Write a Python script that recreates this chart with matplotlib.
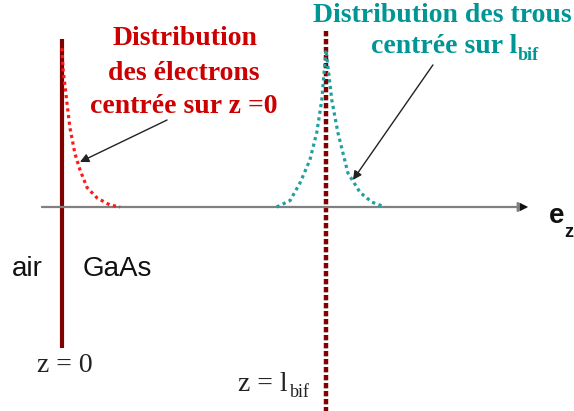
import numpy as np
import matplotlib.pyplot as plt

# positions along z in units of l_bif, amplitudes normalised to the peak
z_elec = [0.0, 0.004, 0.019, 0.030, 0.049, 0.068, 0.095, 0.133, 0.182, 0.22]
n_elec = [0.98, 0.85, 0.64, 0.49, 0.33, 0.23, 0.12, 0.056, 0.012, 0.0]

z_trou = [0.813, 0.864, 0.902, 0.939, 0.965, 0.984, 1.0, 1.022, 1.045, 1.083, 1.129, 1.174, 1.223]
n_trou = [0.0, 0.04, 0.15, 0.29, 0.46, 0.66, 0.97, 0.66, 0.46, 0.21, 0.09, 0.03, 0.0]

z_surface = 0.0
z_lbif = 1.0

W, H = 574, 411


def fx(px):
    return px / W


def fy(py):
    return 1 - py / H


fig = plt.figure(figsize=(5.74, 4.11), dpi=100)
ax = fig.add_axes([0, 0, 1, 1])
ax.set_xlim(-0.2348, 1.9394)
ax.set_ylim(-1.2593, 1.2778)
ax.axis('off')

# axe e_z
ax.annotate('', xy=(1.765, 0), xytext=(-0.076, 0),
            arrowprops=dict(arrowstyle='-|>', color='#808080', lw=1.6,
                            mutation_scale=14, shrinkA=0, shrinkB=0))
ax.annotate('', xy=(1.765, 0), xytext=(1.73, 0),
            arrowprops=dict(arrowstyle='-|>', color='#111111', lw=0.1,
                            mutation_scale=14, shrinkA=0, shrinkB=0))

# surface z = 0 and plane z = l_bif
ax.plot([z_surface, z_surface], [1.037, -0.87], color='#7f0000', lw=3, solid_capstyle='butt')
ax.plot([z_lbif, z_lbif], [1.086, -1.3], color='#800000', lw=3.2,
        dashes=(1.2, 0.6), zorder=2)

# distributions
ax.plot(z_elec, n_elec, color='#ff1a1a', lw=2.3, dashes=(1, 1.1), zorder=3)
ax.plot(z_trou, n_trou, color='#1f9f9f', lw=2.3, dashes=(1, 1.1), zorder=3)

# arrows to the curves
ax.annotate('', xy=(0.068, 0.278), xytext=(0.398, 0.537),
            arrowprops=dict(arrowstyle='-|>', color='#222222', lw=1,
                            mutation_scale=13, shrinkA=0, shrinkB=0))
ax.annotate('', xy=(1.102, 0.167), xytext=(1.405, 0.877),
            arrowprops=dict(arrowstyle='-|>', color='#222222', lw=1,
                            mutation_scale=13, shrinkA=0, shrinkB=0))

red = '#cc0000'
teal = '#009696'
serif = 'Liberation Serif'
sans = 'Liberation Sans'

tf = dict(transform=fig.transFigure, va='baseline')
ax.text(fx(185), fy(45), 'Distribution', color=red, family=serif, weight='bold',
        size=20, ha='center', **tf)
ax.text(fx(184), fy(80), 'des électrons', color=red, family=serif, weight='bold',
        size=20, ha='center', **tf)
ax.text(fx(184), fy(113), 'centrée sur z =0', color=red, family=serif, weight='bold',
        size=20, ha='center', **tf)

ax.text(fx(442), fy(22), 'Distribution des trous', color=teal, family=serif,
        weight='bold', size=20, ha='center', **tf)
ax.text(fx(517), fy(53), 'centrée sur l', color=teal, family=serif,
        weight='bold', size=20, ha='right', **tf)
ax.text(fx(518), fy(60), 'bif', color=teal, family=serif,
        weight='bold', size=13, ha='left', **tf)

ax.text(fx(12), fy(276), 'air', color='#111111', family=sans, size=20, ha='left', **tf)
ax.text(fx(83), fy(276), 'GaAs', color='#111111', family=sans, size=20, ha='left', **tf)

ax.text(fx(37), fy(372), 'z = 0', color='#222222', family=serif, size=20, ha='left', **tf)
ax.text(fx(288), fy(391), 'z = l', color='#222222', family=serif, size=20, ha='right', **tf)
ax.text(fx(290), fy(397), 'bif', color='#222222', family=serif, size=13, ha='left', **tf)

ax.text(fx(549), fy(223), 'e', color='#111111', family=sans, weight='bold',
        size=20, ha='left', **tf)
ax.text(fx(564), fy(237), 'z', color='#111111', family=sans, weight='bold',
        size=13, ha='left', **tf)

fig.savefig('out.png', dpi=100)
